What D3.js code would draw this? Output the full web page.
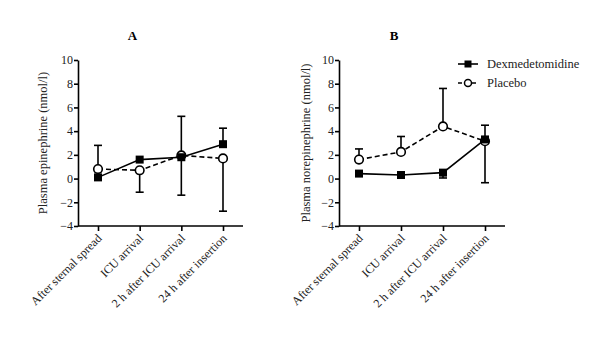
<!DOCTYPE html>
<html>
<head>
<meta charset="utf-8">
<script src="https://cdn.jsdelivr.net/npm/d3@7"></script>
<style>
  body { margin: 0; background: #fff; }
  svg text { font-family: "Liberation Serif", "Times New Roman", "DejaVu Serif", serif !important; }
</style>
</head>
<body>
<script>
var w = 600, h = 346;

// categories and tick values
var categories = ["After sternal spread", "ICU arrival", "2 h after ICU arrival", "24 h after insertion"];
var yTicks = [-4, -2, 0, 2, 4, 6, 8, 10];

// panel A: plasma epinephrine
var dexA = [0.1, 1.6, 1.8, 2.9];
var dexAUp = [null, null, 5.25, 4.25];
var dexADown = [null, null, null, null];
var plaA = [0.8, 0.7, 1.95, 1.7];
var plaAUp = [2.8, null, null, null];
var plaADown = [null, -1.15, -1.4, -2.75];

// panel B: plasma norepinephrine
var dexB = [0.42, 0.3, 0.5, 3.3];
var dexBUp = [null, null, null, 4.5];
var dexBDown = [null, null, 0.05, null];
var plaB = [1.6, 2.25, 4.4, 3.15];
var plaBUp = [2.5, 3.55, 7.6, null];
var plaBDown = [null, null, null, -0.35];

var svg = d3.select("body").append("svg").attr("width", w).attr("height", h);

var panels = [
  { title: "A", label: "Plasma epinephrine (nmol/l)", x0: 78, x1: 243, labelX: 43,
    series: [
      { vals: plaA, up: plaAUp, down: plaADown, dash: "5,3", marker: "circle" },
      { vals: dexA, up: dexAUp, down: dexADown, dash: null, marker: "square" }
    ] },
  { title: "B", label: "Plasma norepinephrine (nmol/l)", x0: 339, x1: 505, labelX: 306,
    series: [
      { vals: plaB, up: plaBUp, down: plaBDown, dash: "5,3", marker: "circle" },
      { vals: dexB, up: dexBUp, down: dexBDown, dash: null, marker: "square" }
    ] }
];

var yTop = 60, yBottom = 226;

panels.forEach(function (p) {
  var g = svg.append("g");
  var yScale = d3.scaleLinear().domain([-4, 10]).range([yBottom, yTop]);
  var xScale = d3.scalePoint().domain(categories)
    .range([p.x0 + 20, p.x1 - 20]);

  // y axis
  var yAxis = d3.axisLeft(yScale).tickValues(yTicks).tickSize(4).tickPadding(1).tickSizeOuter(0);
  var ya = g.append("g").attr("transform", "translate(" + p.x0 + ",0)").call(yAxis);
  ya.select(".domain").attr("stroke-width", 1.6);
  ya.selectAll(".tick line").attr("stroke-width", 1.6);
  ya.selectAll(".tick text").attr("font-size", 12).attr("fill", "#222");

  // x axis
  var xAxis = d3.axisBottom(xScale).tickSize(5).tickSizeOuter(0);
  var xa = g.append("g").attr("transform", "translate(0," + yBottom + ")").call(xAxis);
  xa.select(".domain").attr("d", "M" + p.x0 + ",0H" + p.x1).attr("stroke-width", 1.6);
  xa.selectAll(".tick line").attr("stroke-width", 1.6);
  xa.selectAll(".tick text")
    .attr("font-size", 12).attr("fill", "#222")
    .attr("text-anchor", "end").attr("dy", null).attr("y", 0)
    .attr("transform", "translate(4,13) rotate(-45)");

  // title
  g.append("text").attr("x", (p.x0 + p.x1) / 2 - 28).attr("y", 40)
    .attr("text-anchor", "middle").attr("font-weight", "bold").attr("font-size", 13)
    .text(p.title);

  // y label
  g.append("text").attr("transform", "translate(" + p.labelX + "," + (yTop + yBottom) / 2 + ") rotate(-90)")
    .attr("text-anchor", "middle").attr("dy", "0.35em").attr("font-size", 12.5).attr("fill", "#222")
    .text(p.label);

  var line = d3.line().x(function (d, i) { return xScale(categories[i]); }).y(function (d) { return yScale(d); });

  p.series.forEach(function (s) {
    // error bars
    categories.forEach(function (c, i) {
      [s.up[i], s.down[i]].forEach(function (e) {
        if (e === null) return;
        var x = xScale(c);
        g.append("line").attr("x1", x).attr("x2", x).attr("y1", yScale(s.vals[i])).attr("y2", yScale(e))
          .attr("stroke", "#000").attr("stroke-width", 1.6);
        g.append("line").attr("x1", x - 4).attr("x2", x + 4).attr("y1", yScale(e)).attr("y2", yScale(e))
          .attr("stroke", "#000").attr("stroke-width", 1.6);
      });
    });
    g.append("path").datum(s.vals).attr("d", line).attr("fill", "none")
      .attr("stroke", "#000").attr("stroke-width", 1.6).attr("stroke-dasharray", s.dash);
  });

  p.series.forEach(function (s) {
    s.vals.forEach(function (v, i) {
      var x = xScale(categories[i]), y = yScale(v);
      if (s.marker === "square") {
        g.append("rect").attr("x", x - 4).attr("y", y - 4).attr("width", 8).attr("height", 8).attr("fill", "#000");
      } else {
        g.append("circle").attr("cx", x).attr("cy", y).attr("r", 4.3).attr("fill", "#fff")
          .attr("stroke", "#000").attr("stroke-width", 1.6);
      }
    });
  });
});

// legend
var legend = [
  { name: "Dexmedetomidine", dash: null, marker: "square" },
  { name: "Placebo", dash: "4,3", marker: "circle" }
];
legend.forEach(function (l, i) {
  var y = 64 + i * 19;
  svg.append("line").attr("x1", 458).attr("x2", 478).attr("y1", y).attr("y2", y)
    .attr("stroke", "#000").attr("stroke-width", 1.6).attr("stroke-dasharray", l.dash);
  if (l.marker === "square") {
    svg.append("rect").attr("x", 464.5).attr("y", y - 3.5).attr("width", 7).attr("height", 7).attr("fill", "#000");
  } else {
    svg.append("circle").attr("cx", 468).attr("cy", y).attr("r", 3.5).attr("fill", "#fff")
      .attr("stroke", "#000").attr("stroke-width", 1.5);
  }
  svg.append("text").attr("x", 487).attr("y", y).attr("dy", "0.35em").attr("font-size", 12.5).attr("fill", "#222")
    .text(l.name);
});
</script>
</body>
</html>
